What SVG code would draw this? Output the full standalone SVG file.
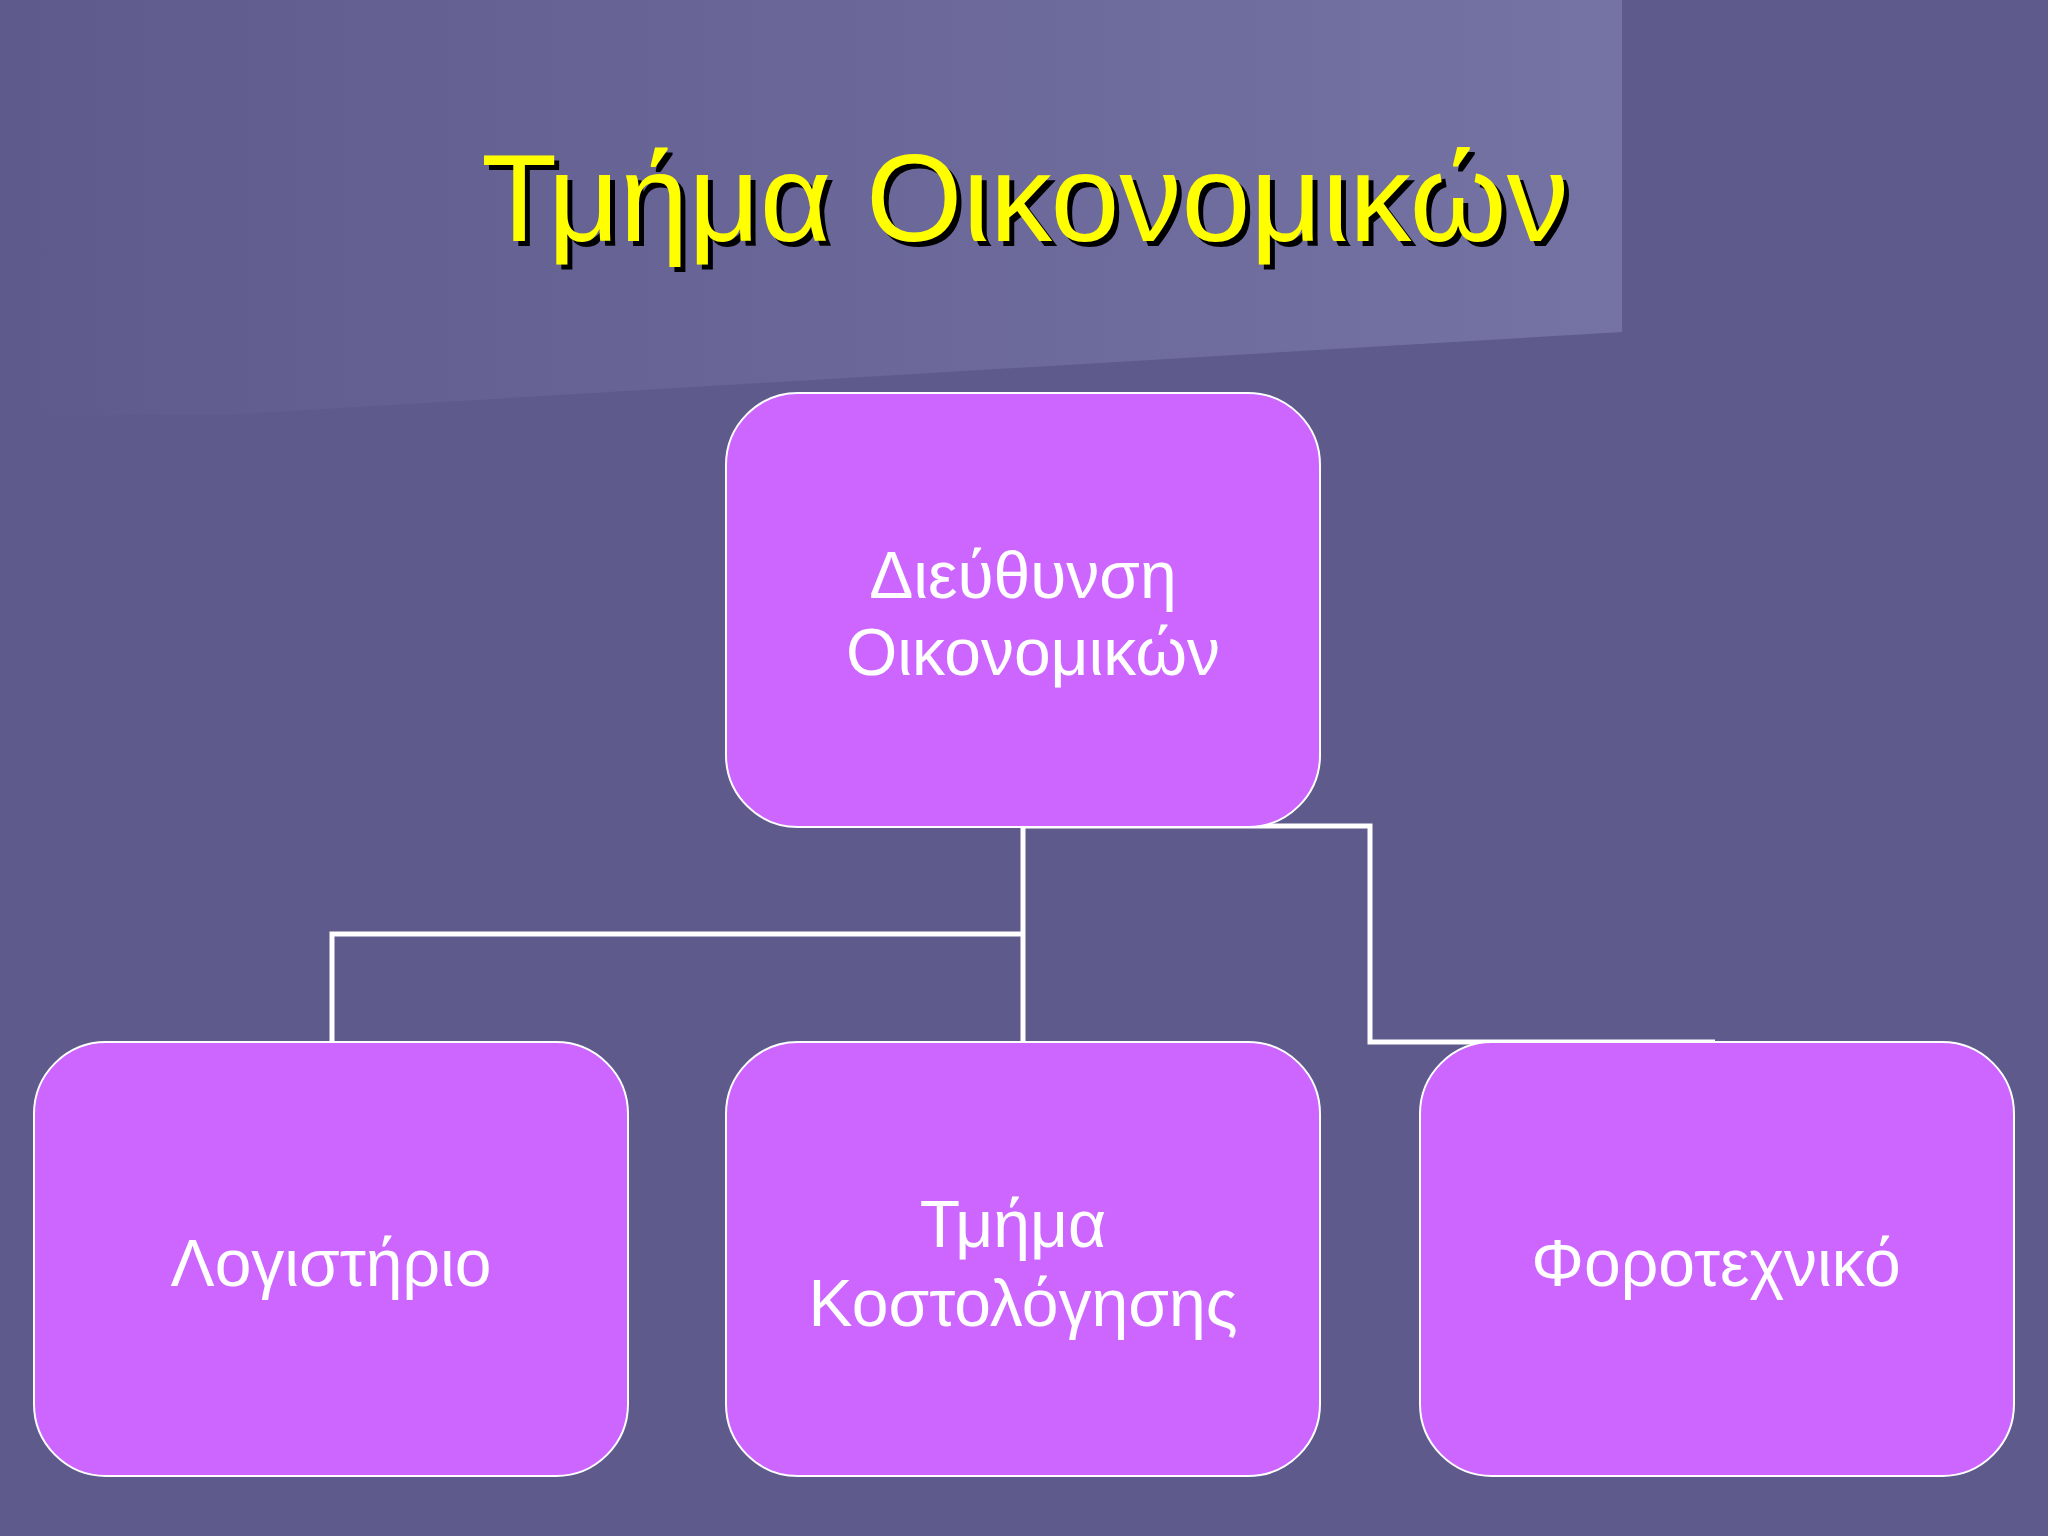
<svg xmlns="http://www.w3.org/2000/svg" width="2048" height="1536" viewBox="0 0 2048 1536">
<defs>
<linearGradient id="bg" x1="0" y1="0" x2="1" y2="0">
<stop offset="0" stop-color="#5E5B8C"/><stop offset="1" stop-color="#7573A3"/>
</linearGradient>
<style>
.node{fill:#CC66FF;stroke:#FFFFFF;stroke-width:2}
.lbl{font-family:"Liberation Sans",Arial,sans-serif;font-size:66px;fill:#FFFFFF;text-anchor:middle}
.conn{fill:none;stroke:#FFFFFF;stroke-width:5}
.title{font-family:"Liberation Sans",Arial,sans-serif;font-size:124px;text-anchor:middle}
</style>
</defs>
<rect width="2048" height="1536" fill="#5E5B8C"/>
<polygon points="0,0 1622,0 1622,332 222,415 0,415" fill="url(#bg)"/>
<g id="title">
<text class="title" x="1030" y="246" fill="#000000">Τμήμα Οικονομικών</text>
<text class="title" x="1025" y="241" fill="#FFFF00">Τμήμα Οικονομικών</text>
</g>
<g id="connectors">
<path class="conn" d="M1023,827 V1042"/>
<path class="conn" d="M1023,934 H332 V1042"/>
<path class="conn" d="M1023,826 H1370 V1042 H1715"/>
</g>
<g id="n1"><rect class="node" x="726" y="393" width="594" height="434" rx="72"/>
<text class="lbl" x="1023" y="598">Διεύθυνση</text><text class="lbl" x="1033" y="675">Οικονομικών</text></g>
<g id="n2"><rect class="node" x="34" y="1042" width="594" height="434" rx="72"/>
<text class="lbl" x="331" y="1286">Λογιστήριο</text></g>
<g id="n3"><rect class="node" x="726" y="1042" width="594" height="434" rx="72"/>
<text class="lbl" x="1013" y="1247">Τμήμα</text><text class="lbl" x="1023" y="1326">Κοστολόγησης</text></g>
<g id="n4"><rect class="node" x="1420" y="1042" width="594" height="434" rx="72"/>
<text class="lbl" x="1716" y="1286">Φοροτεχνικό</text></g>
</svg>
